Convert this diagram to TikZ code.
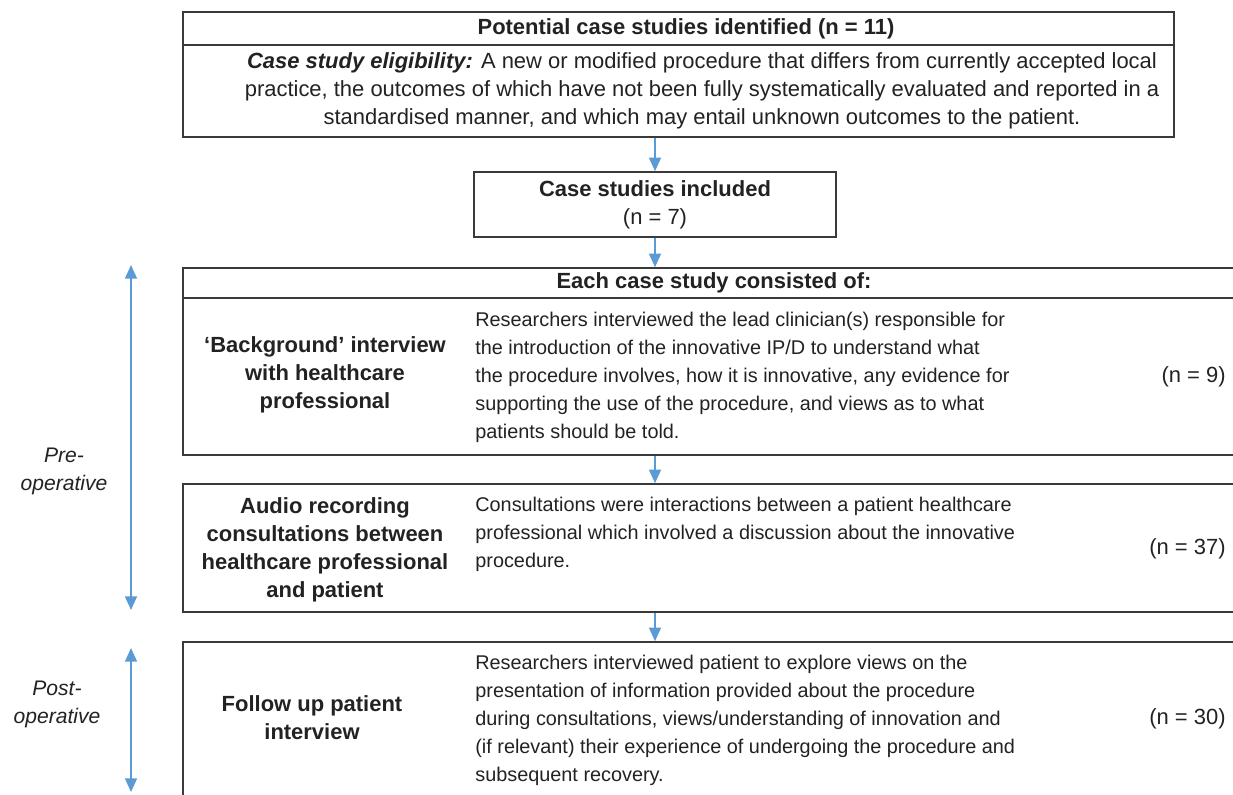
\documentclass[tikz,border=0pt]{standalone}
\usepackage{fontspec}
\setmainfont{Liberation Sans}
\usetikzlibrary{arrows.meta,positioning}
\definecolor{fc-text}{HTML}{222222}
\definecolor{fc-line}{HTML}{3A3A3A}
\definecolor{fc-blue}{HTML}{5B9BD5}

\begin{document}
\begin{tikzpicture}[
    x=0.02cm, y=-0.02cm,
    font=\fontsize{12.5}{15.9}\selectfont,
    >={Triangle[width=6.8pt,length=7.8pt]}
  ]
  \tikzset{
    box/.style={draw=fc-line, line width=0.9pt, inner sep=0pt, text=fc-text},
    txt/.style={align=center, inner sep=0pt, text=fc-text},
    lbl/.style={font=\fontsize{12.5}{15.9}\selectfont\bfseries, align=center, inner sep=0pt, text=fc-text},
    desc/.style={font=\fontsize{11.3}{15.9}\selectfont, anchor=west, align=left, inner sep=0pt, text=fc-text},
    count/.style={anchor=east, inner sep=0pt, text=fc-text},
    phase/.style={font=\fontsize{12}{15.9}\selectfont\itshape, align=center, inner sep=0pt, text=fc-text},
    arrow/.style={->, fc-blue, line width=1pt}
  }

  \useasboundingbox (0,0) rectangle (1233,794);
  \clip (0,0) rectangle (1233,794);

  % top boxes
  \node (pothead) [box, minimum width=19.82cm, minimum height=0.66cm] at (678.5,28.5) {};
  \node (elig) [box, minimum width=19.82cm, minimum height=1.84cm] at (678.5,91) {};
  \node (pottxt) [txt, font=\fontsize{12.5}{15.9}\selectfont\bfseries] at (686,28.5)
    {Potential case studies identified (n = 11)};
  \node (eligtxt) [txt] at (702,91)
    {\textbf{\textit{Case study eligibility:}} A new or modified procedure that differs from currently accepted local\\
     practice, the outcomes of which have not been fully systematically evaluated and reported in a\\
     standardised manner, and which may entail unknown outcomes to the patient.};
  \node (incl) [box, minimum width=7.24cm, minimum height=1.3cm, align=center] at (655,204.5)
    {\textbf{Case studies included}\\(n = 7)};

  % case study components
  \node (each) [box, minimum width=21.24cm, minimum height=0.6cm] at (714,283)
    {\bfseries Each case study consisted of:};
  \node (bgbox) [box, minimum width=21.24cm, minimum height=3.14cm] at (714,376.5) {};
  \node (audbox) [box, minimum width=21.24cm, minimum height=2.56cm] at (714,548) {};
  \node (fubox) [box, minimum width=21.24cm, minimum height=3.16cm] at (714,721) {};

  \node (bglbl) [lbl] at (325,375) {‘Background’ interview\\with healthcare\\professional};
  \node (bgdesc) [desc] at (475,377)
    {Researchers interviewed the lead clinician(s) responsible for\\
     the introduction of the innovative IP/D to understand what\\
     the procedure involves, how it is innovative, any evidence for\\
     supporting the use of the procedure, and views as to what\\
     patients should be told.};
  \node (bgn) [count] at (1226,377) {(n = 9)};

  \node (audlbl) [lbl] at (325,550) {Audio recording\\consultations between\\healthcare professional\\and patient};
  \node (auddesc) [desc] at (475,534.5)
    {Consultations were interactions between a patient healthcare\\
     professional which involved a discussion about the innovative\\
     procedure.};
  \node (audn) [count] at (1226,549) {(n = 37)};

  \node (fulbl) [lbl] at (312,718) {Follow up patient\\interview};
  \node (fudesc) [desc] at (475,720)
    {Researchers interviewed patient to explore views on the\\
     presentation of information provided about the procedure\\
     during consultations, views/understanding of innovation and\\
     (if relevant) their experience of undergoing the procedure and\\
     subsequent recovery.};
  \node (fun) [count] at (1226,719) {(n = 30)};

  % phases
  \coordinate (pretop) at (131,265);
  \coordinate (prebot) at (131,610);
  \coordinate (posttop) at (131,648);
  \coordinate (postbot) at (131,792);
  \node (prelbl) [phase] at (64,471) {Pre-\\operative};
  \node (postlbl) [phase] at (57,704) {Post-\\operative};

  \draw[arrow] (incl.north |- elig.south) -- (incl.north);
  \draw[arrow] (incl.south) -- (incl.south |- each.north);
  \draw[arrow] (incl.south |- bgbox.south) -- (incl.south |- audbox.north);
  \draw[arrow] (incl.south |- audbox.south) -- (incl.south |- fubox.north);
  \draw[arrow, <->] (pretop) -- (prebot);
  \draw[arrow, <->] (posttop) -- (postbot);
\end{tikzpicture}
\end{document}
